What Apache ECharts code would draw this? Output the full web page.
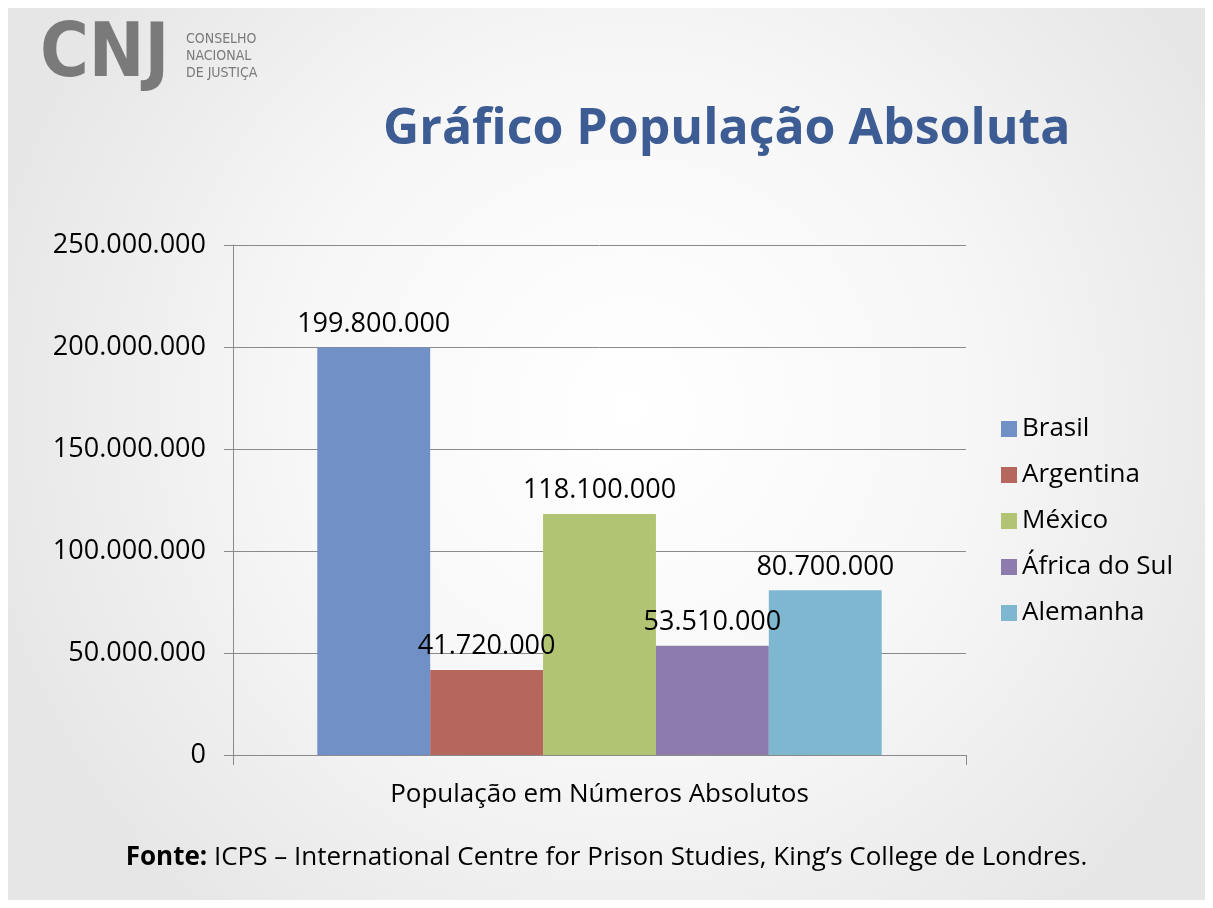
<!DOCTYPE html>
<html>
<head>
<meta charset="utf-8">
<script src="https://cdn.jsdelivr.net/npm/echarts@6/dist/echarts.min.js"></script>
<style>
  html, body { margin: 0; padding: 0; background: #fff; }
  #chart { width: 1213px; height: 908px; }
</style>
</head>
<body>
<div id="chart"></div>
<script>
// dados
var categoria = ['População em Números Absolutos']
var paises = ['Brasil', 'Argentina', 'México', 'África do Sul', 'Alemanha']
var populacao = [199800000, 41720000, 118100000, 53510000, 80700000]
var cores = ['#7191C6', '#B5665D', '#B0C473', '#8D7BAD', '#7EB7CF']

var fonte = 'Open Sans, Lato, sans-serif'

function fmt (v) {
  return String(Math.round(v)).replace(/\B(?=(\d{3})+(?!\d))/g, '.')
}

var chart = echarts.init(document.getElementById('chart'))

var series = paises.map(function (nome, i) {
  return {
    name: nome,
    type: 'bar',
    barGap: '0%',
    barCategoryGap: '23%',
    itemStyle: { color: cores[i] },
    label: {
      show: true,
      position: 'top',
      distance: 10,
      color: '#000',
      fontFamily: fonte,
      fontSize: 27,
      formatter: function (p) { return fmt(p.value) }
    },
    data: [populacao[i]]
  }
})

chart.setOption({
  backgroundColor: '#ffffff',
  textStyle: { fontFamily: fonte },
  graphic: [
    {
      type: 'rect',
      z: -10,
      shape: { x: 8, y: 8, width: 1197, height: 892 },
      style: {
        fill: new echarts.graphic.RadialGradient(0.52, 0.45, 0.75, [
          { offset: 0, color: '#ffffff' },
          { offset: 0.5, color: '#f7f7f7' },
          { offset: 1, color: '#e6e6e6' }
        ])
      }
    },
    {
      type: 'text',
      left: 40,
      top: 20,
      style: {
        text: 'CNJ',
        font: 'bold 74px "DejaVu Sans Condensed", "DejaVu Sans", sans-serif',
        fill: '#7a7a7a'
      }
    },
    {
      type: 'text',
      left: 186,
      top: 31,
      style: {
        text: 'CONSELHO\nNACIONAL\nDE JUSTIÇA',
        font: '14px "Liberation Sans Narrow", "DejaVu Sans Condensed", sans-serif',
        lineHeight: 17,
        fill: '#7a7a7a'
      }
    },
    {
      type: 'text',
      left: 383,
      top: 105,
      style: {
        text: 'Gráfico População Absoluta',
        font: 'bold 50px ' + fonte,
        fill: '#3D5C93'
      }
    },
    {
      type: 'text',
      left: 'center',
      top: 845,
      style: {
        text: '{b|Fonte:} ICPS – International Centre for Prison Studies, King’s College de Londres.',
        font: '26px ' + fonte,
        fill: '#000',
        rich: {
          b: { fontWeight: 'bold', fontSize: 26, fontFamily: fonte, fill: '#000' }
        }
      }
    }
  ],
  legend: {
    orient: 'vertical',
    left: 996,
    top: 411,
    itemWidth: 16,
    itemHeight: 16,
    itemGap: 20,
    icon: 'rect',
    textStyle: { fontFamily: fonte, fontSize: 26, color: '#000' },
    data: paises
  },
  grid: { left: 233, right: 247, top: 245, bottom: 153 },
  xAxis: {
    type: 'category',
    data: categoria,
    axisLine: { lineStyle: { color: '#8a8a8a', width: 1 } },
    axisTick: { show: true, length: 10, alignWithLabel: false, lineStyle: { color: '#8a8a8a' } },
    axisLabel: {
      color: '#000',
      fontFamily: fonte,
      fontSize: 26,
      margin: 27
    }
  },
  yAxis: {
    type: 'value',
    min: 0,
    max: 250000000,
    interval: 50000000,
    axisLine: { show: true, lineStyle: { color: '#8a8a8a', width: 1 } },
    axisTick: { show: true, length: 9, lineStyle: { color: '#8a8a8a' } },
    splitLine: { lineStyle: { color: '#8a8a8a', width: 1 } },
    axisLabel: {
      color: '#000',
      fontFamily: fonte,
      fontSize: 27,
      margin: 27,
      formatter: fmt
    }
  },
  series: series
})
</script>
</body>
</html>
